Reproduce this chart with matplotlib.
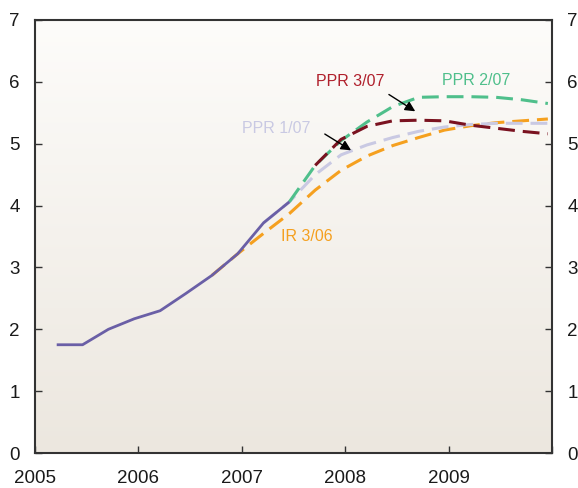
import numpy as np
import matplotlib
matplotlib.use("Agg")
import matplotlib.pyplot as plt
from matplotlib.colors import LinearSegmentedColormap

plt.rcParams['font.family'] = ['Liberation Sans', 'DejaVu Sans']

# Quarterly data (x in fractional years)
actual_x = [2005.21, 2005.46, 2005.71, 2005.96, 2006.21, 2006.46, 2006.71, 2006.96, 2007.21, 2007.46]
actual_y = [1.75, 1.75, 2.0, 2.17, 2.30, 2.58, 2.87, 3.22, 3.72, 4.06]

ir306_x = [2006.71, 2006.96, 2007.21, 2007.46, 2007.71, 2007.96, 2008.21, 2008.46, 2008.71, 2008.96, 2009.21, 2009.46, 2009.71, 2009.96]
ir306_y = [2.87, 3.22, 3.55, 3.87, 4.25, 4.57, 4.80, 4.97, 5.10, 5.22, 5.29, 5.34, 5.37, 5.40]

ppr107_x = [2007.21, 2007.46, 2007.71, 2007.96, 2008.21, 2008.46, 2008.71, 2008.96, 2009.21, 2009.46, 2009.71, 2009.96]
ppr107_y = [3.72, 4.06, 4.50, 4.82, 4.98, 5.10, 5.20, 5.27, 5.31, 5.33, 5.33, 5.33]

ppr207_x = [2007.46, 2007.71, 2007.96, 2008.21, 2008.46, 2008.71, 2008.96, 2009.21, 2009.46, 2009.71, 2009.96]
ppr207_y = [4.06, 4.65, 5.05, 5.35, 5.60, 5.75, 5.76, 5.76, 5.75, 5.71, 5.65]

ppr307_x = [2007.71, 2007.96, 2008.21, 2008.46, 2008.71, 2008.96, 2009.21, 2009.46, 2009.71, 2009.96]
ppr307_y = [4.65, 5.07, 5.28, 5.37, 5.38, 5.37, 5.30, 5.25, 5.20, 5.16]

year_ticks = [2005, 2006, 2007, 2008, 2009, 2010]
year_labels = ['2005', '2006', '2007', '2008', '2009', '']
y_ticks = [0, 1, 2, 3, 4, 5, 6, 7]

c_actual = '#6a5fa6'
c_ir = '#f5a01f'
c_p1 = '#c9c9e3'
c_p2 = '#4fbf8b'
c_p3 = '#7a1220'

fig = plt.figure(figsize=(5.78, 4.88), dpi=100)
ax = fig.add_axes([35/578, 35/488, 517/578, 433/488])
ax.set_xlim(2005, 2010)
ax.set_ylim(0, 7)

# gradient background
cmap = LinearSegmentedColormap.from_list('bg', ['#ece7df', '#fdfcfa'])
grad = np.linspace(0, 1, 256).reshape(-1, 1)
ax.imshow(grad, extent=[2005, 2010, 0, 7], origin='lower', aspect='auto', cmap=cmap, zorder=0)

lw = 2.2
dash = (0, (5.5, 2.6))
ax.plot(ir306_x, ir306_y, color=c_ir, lw=lw, linestyle=dash, zorder=2)
ax.plot(ppr107_x, ppr107_y, color=c_p1, lw=lw, linestyle=dash, zorder=3)
ax.plot(ppr207_x, ppr207_y, color=c_p2, lw=lw, linestyle=dash, zorder=4)
ax.plot(ppr307_x, ppr307_y, color=c_p3, lw=lw, linestyle=dash, zorder=5)
ax.plot(actual_x, actual_y, color=c_actual, lw=2.0, zorder=6, solid_capstyle='butt')

fs = 13.5
tfs = 11.5
ax.text(2008.05, 6.0, 'PPR 3/07', color='#b0202c', fontsize=tfs, ha='center', va='center', zorder=7)
ax.text(2009.27, 6.03, 'PPR 2/07', color=c_p2, fontsize=tfs, ha='center', va='center', zorder=7)
ax.text(2007.33, 5.25, 'PPR 1/07', color=c_p1, fontsize=tfs, ha='center', va='center', zorder=7)
ax.text(2007.63, 3.5, 'IR 3/06', color=c_ir, fontsize=tfs, ha='center', va='center', zorder=7)

arrow_kw = dict(arrowstyle='-|>,head_length=0.6,head_width=0.3', color='black', lw=1.0)
ax.annotate('', xy=(2008.08, 4.87), xytext=(2007.78, 5.18), arrowprops=arrow_kw, zorder=8)
ax.annotate('', xy=(2008.7, 5.5), xytext=(2008.4, 5.82), arrowprops=arrow_kw, zorder=8)

ax.set_xticks(year_ticks)
ax.set_xticklabels(year_labels)
ax.set_yticks(y_ticks)
ax.tick_params(axis='both', direction='in', length=5, width=1, colors='#333333', labelsize=fs, labelcolor='#1a1a1a')
ax.tick_params(axis='x', pad=12)
ax.tick_params(axis='y', pad=11, left=True, right=True, labelleft=True, labelright=True)
for s in ax.spines.values():
    s.set_color('#333333')
    s.set_linewidth(1.5)

fig.savefig('out.png', dpi=100)
